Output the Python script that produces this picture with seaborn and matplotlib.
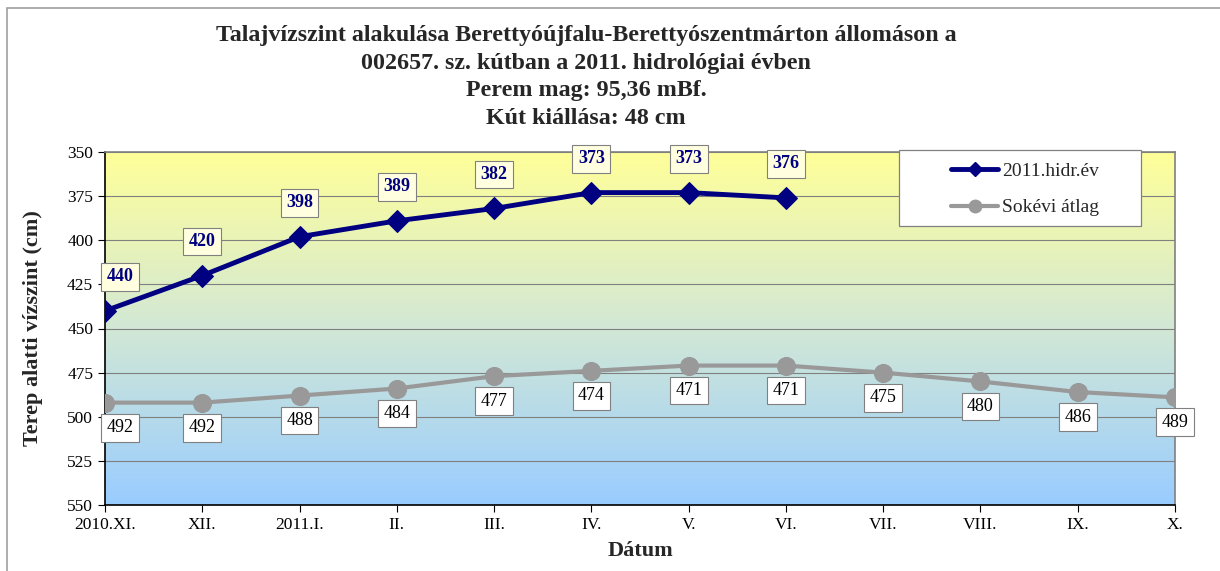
import matplotlib
matplotlib.use("Agg")
import matplotlib.pyplot as plt
import matplotlib.colors as mcolors
import numpy as np
import pandas as pd
import seaborn as sns
from matplotlib.lines import Line2D
from matplotlib.patches import Rectangle

# Data
months = ['2010.XI.', 'XII.', '2011.I.', 'II.', 'III.', 'IV.', 'V.', 'VI.',
          'VII.', 'VIII.', 'IX.', 'X.']
hidr_2011 = [440, 420, 398, 389, 382, 373, 373, 376]
sokevi_atlag = [492, 492, 488, 484, 477, 474, 471, 471, 475, 480, 486, 489]

df_cur = pd.DataFrame({'x': range(len(hidr_2011)), 'value': hidr_2011})
df_avg = pd.DataFrame({'x': range(len(sokevi_atlag)), 'value': sokevi_atlag})

sns.set_style("white")
plt.rcParams['font.family'] = ['Liberation Serif', 'DejaVu Serif']

fig = plt.figure(figsize=(12.2, 5.71), dpi=100)
ax = fig.add_axes([105 / 1220, 1 - 505 / 571, 1070 / 1220, 353 / 571])

# gradient background (yellow -> blue)
cmap = mcolors.LinearSegmentedColormap.from_list('bg', ['#FFFF99', '#D2E8D6', '#99CCFF'])
grad = np.linspace(0, 1, 256).reshape(-1, 1)
ax.imshow(grad, aspect='auto', cmap=cmap, extent=[0, 11, 550, 350], zorder=0)

sns.lineplot(data=df_avg, x='x', y='value', ax=ax, color='#999999', linewidth=3,
             marker='o', markersize=13, markeredgecolor='#999999', zorder=3)
sns.lineplot(data=df_cur, x='x', y='value', ax=ax, color='#000080', linewidth=3.5,
             marker='D', markersize=11, markeredgecolor='#000080', zorder=4)

ax.set_xlim(0, 11)
ax.set_ylim(550, 350)
ax.set_yticks(range(350, 551, 25))
ax.set_xticks(range(len(months)))
ax.set_xticklabels(months)
ax.tick_params(axis='both', labelsize=12.5, direction='out', length=5,
               colors='#000000', bottom=True, left=True)
ax.yaxis.grid(True, color='#808080', linewidth=0.8)
for gl in ax.get_ygridlines():
    gl.set_zorder(1)

for side in ['left', 'bottom']:
    ax.spines[side].set_color('black')
    ax.spines[side].set_linewidth(1.2)
for side in ['top', 'right']:
    ax.spines[side].set_color('#808080')
    ax.spines[side].set_linewidth(1.2)

ax.set_xlabel('Dátum', fontsize=16, fontweight='bold', labelpad=6)
ax.set_ylabel('Terep alatti vízszint (cm)', fontsize=16, fontweight='bold', labelpad=17)

# data labels
for i, v in enumerate(hidr_2011):
    dx = 15 if i == 0 else 0
    ax.annotate(str(v), (i, v), xytext=(dx, 34), textcoords='offset pixels',
                ha='center', va='center', fontsize=13, fontweight='bold', color='#000080',
                bbox=dict(boxstyle='square,pad=0.3', fc='#FFFFE0', ec='#808080', lw=0.8),
                zorder=6)
for i, v in enumerate(sokevi_atlag):
    dx = 15 if i == 0 else 0
    ax.annotate(str(v), (i, v), xytext=(dx, -25), textcoords='offset pixels',
                ha='center', va='center', fontsize=13, color='black',
                bbox=dict(boxstyle='square,pad=0.3', fc='white', ec='#808080', lw=0.8),
                zorder=6, annotation_clip=False)

# legend box + frameless legend
fig.patches.append(Rectangle((899 / 1220, 1 - 226 / 571), 242 / 1220, 76 / 571,
                             transform=fig.transFigure, facecolor='white',
                             edgecolor='#808080', linewidth=0.9, zorder=9))
handles = [Line2D([], [], color='#000080', lw=3.5, marker='D', markersize=7),
           Line2D([], [], color='#999999', lw=3, marker='o', markersize=9)]
leg = fig.legend(handles, ['2011.hidr.év', 'Sokévi átlag'], loc='center',
                 bbox_to_anchor=(1025 / 1220, 1 - 189.5 / 571), fontsize=14,
                 frameon=False, handlelength=2.4, labelspacing=0.95,
                 handletextpad=0.2, borderpad=0)
leg.set_zorder(10)

# title
fig.text(586 / 1220, 1 - 77 / 571,
         'Talajvízszint alakulása Berettyóújfalu-Berettyószentmárton állomáson a\n'
         '002657. sz. kútban a 2011. hidrológiai évben\n'
         'Perem mag: 95,36 mBf.\n'
         'Kút kiállása: 48 cm',
         ha='center', va='center', fontsize=17.3, fontweight='bold', linespacing=1.4)

# chart border
fig.patches.append(Rectangle((7 / 1220, -0.1), 1.2, 1 - 8 / 571 + 0.1,
                             transform=fig.transFigure, fill=False,
                             edgecolor='#A0A0A0', linewidth=1.2))

fig.savefig('out.png', dpi=100)
